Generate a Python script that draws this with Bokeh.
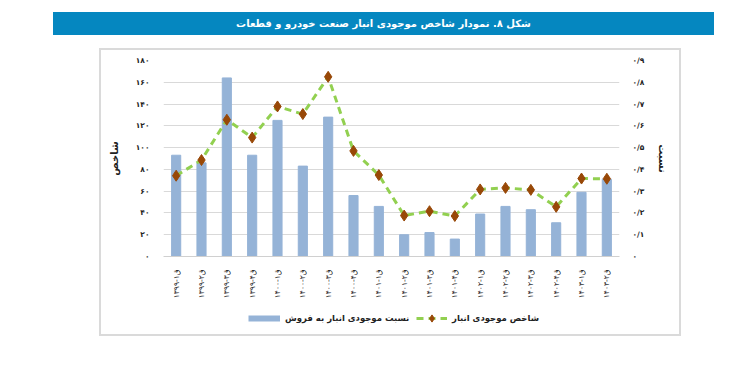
import math
from bokeh.plotting import figure
from bokeh.layouts import column
from bokeh.models import (Range1d, LinearAxis, FixedTicker, CustomJSTickFormatter,
                          Legend, LegendItem, Div)
from bokeh.embed import file_html
from bokeh.resources import INLINE

# ---------------- data ----------------
categories = [
    "۱۳۹۹-ق۱", "۱۳۹۹-ق۲", "۱۳۹۹-ق۳", "۱۳۹۹-ق۴",
    "۱۴۰۰-ق۱", "۱۴۰۰-ق۲", "۱۴۰۰-ق۳", "۱۴۰۰-ق۴",
    "۱۴۰۱-ق۱", "۱۴۰۱-ق۲", "۱۴۰۱-ق۳", "۱۴۰۱-ق۴",
    "۱۴۰۲-ق۱", "۱۴۰۲-ق۲", "۱۴۰۲-ق۳", "۱۴۰۲-ق۴",
    "۱۴۰۳-ق۱", "۱۴۰۳-ق۲",
]
inventory_to_sales = [93, 86, 164, 93, 125, 83, 128, 56, 46, 20, 22, 16, 39, 46, 43, 31, 59, 71]
inventory_index = [0.371, 0.443, 0.628, 0.546, 0.689, 0.654, 0.825, 0.485, 0.374,
                   0.188, 0.208, 0.186, 0.308, 0.315, 0.306, 0.228, 0.358, 0.357]
left_ticks = [0, 20, 40, 60, 80, 100, 120, 140, 160, 180]
right_ticks = [0, 0.1, 0.2, 0.3, 0.4, 0.5, 0.6, 0.7, 0.8, 0.9]

title_text = "شکل ۸. نمودار شاخص موجودی انبار صنعت خودرو و قطعات"
left_title = "شاخص"
right_title = "نسبت"
bar_name = "نسبت موجودی انبار به فروش"
line_name = "شاخص موجودی انبار"

FONT = "DejaVu Sans"
BAR_COLOR = "#95b3d7"
LINE_COLOR = "#92d050"
MARK_COLOR = "#984807"
TEXT_COLOR = "#222222"

# ---------------- main chart ----------------
p = figure(x_range=categories, y_range=Range1d(0, 180), width=578, height=252,
           output_backend="svg", toolbar_location=None,
           min_border_left=62, min_border_right=60, min_border_top=10, min_border_bottom=46)
p.extra_y_ranges = {"right": Range1d(0, 0.9)}
p.outline_line_color = None

p.vbar(x=categories, top=inventory_to_sales, width=0.36, color=BAR_COLOR)
p.line(x=categories, y=inventory_index, y_range_name="right",
       line_color=LINE_COLOR, line_width=3, line_dash="7 5")
p.scatter(x=categories, y=inventory_index, y_range_name="right", marker="diamond",
          size=11, fill_color=MARK_COLOR, line_color=MARK_COLOR)

fa_code_left = """
const fa='۰۱۲۳۴۵۶۷۸۹';
return String(Math.round(tick)).replace(/[0-9]/g, d => fa[+d]);
"""
fa_code_right = """
const fa='۰۱۲۳۴۵۶۷۸۹';
let s = Math.abs(tick) < 1e-9 ? '0' : tick.toFixed(1).replace('.', '/');
return s.replace(/[0-9]/g, d => fa[+d]);
"""

def style_axis(ax, standoff, title_standoff):
    ax.axis_line_color = None
    ax.major_tick_line_color = None
    ax.minor_tick_line_color = None
    ax.major_label_standoff = standoff
    ax.major_label_text_font = FONT
    ax.major_label_text_font_style = "bold"
    ax.major_label_text_font_size = "7.5px"
    ax.major_label_text_color = TEXT_COLOR
    ax.axis_label_text_font = FONT
    ax.axis_label_text_font_style = "bold"
    ax.axis_label_text_font_size = "10px"
    ax.axis_label_text_color = TEXT_COLOR
    ax.axis_label_standoff = title_standoff

ya = p.yaxis[0]
ya.ticker = FixedTicker(ticks=left_ticks)
ya.formatter = CustomJSTickFormatter(code=fa_code_left)
ya.axis_label = left_title
style_axis(ya, 8, 13)

ra = LinearAxis(y_range_name="right", ticker=FixedTicker(ticks=right_ticks),
                formatter=CustomJSTickFormatter(code=fa_code_right))
ra.axis_label = right_title
style_axis(ra, 7, 10)
p.add_layout(ra, "right")

xa = p.xaxis[0]
xa.major_label_orientation = math.pi / 2
xa.axis_line_color = "#d0d0d0"
xa.major_tick_line_color = None
xa.minor_tick_line_color = None
xa.major_label_standoff = 7
xa.major_label_text_font = FONT
xa.major_label_text_font_size = "7.5px"
xa.major_label_text_color = TEXT_COLOR

p.xgrid.grid_line_color = None
p.ygrid.grid_line_color = "#d9d9d9"
p.ygrid.grid_line_width = 1

# ---------------- legend strip ----------------
lg = figure(width=578, height=32, x_range=Range1d(0, 1), y_range=Range1d(0, 1),
            output_backend="svg", toolbar_location=None,
            x_axis_location=None, y_axis_location=None, min_border=0)
lg.outline_line_color = None
lg.grid.visible = False
sw = lg.line(x=[-5, -4], y=[-5, -5], line_color=BAR_COLOR, line_width=6)
l2 = lg.line(x=[-5, -4], y=[-5, -5], line_color=LINE_COLOR, line_width=3, line_dash="7 5")
s2 = lg.scatter(x=[-5], y=[-5], marker="diamond", size=11,
                fill_color=MARK_COLOR, line_color=MARK_COLOR)

def make_legend(items, loc, gw):
    return Legend(items=items, orientation="horizontal", location=loc,
                  glyph_width=gw, glyph_height=18, spacing=0, label_standoff=5,
                  border_line_color=None, background_fill_alpha=0, padding=0, margin=0,
                  label_text_font=FONT, label_text_font_style="bold",
                  label_text_font_size="8.5px", label_text_color=TEXT_COLOR)

lg.add_layout(make_legend([LegendItem(label=bar_name, renderers=[sw])], (85, 7), 32), "center")
lg.add_layout(make_legend([LegendItem(label=line_name, renderers=[l2, s2])], (253, 7), 31), "center")

# ---------------- title bar ----------------
title = Div(text=title_text, width=661, height=23, margin=(12, 0, 0, 53),
            styles={"background-color": "#0587c0", "color": "white",
                    "font-family": FONT, "font-weight": "bold", "font-size": "10px",
                    "text-align": "center", "line-height": "23px", "direction": "rtl"})

box = column(p, lg, margin=(13, 0, 0, 99),
             styles={"border": "2px solid #dadada"})
page = column(title, box)

open("out.html", "w").write(file_html(page, INLINE))
